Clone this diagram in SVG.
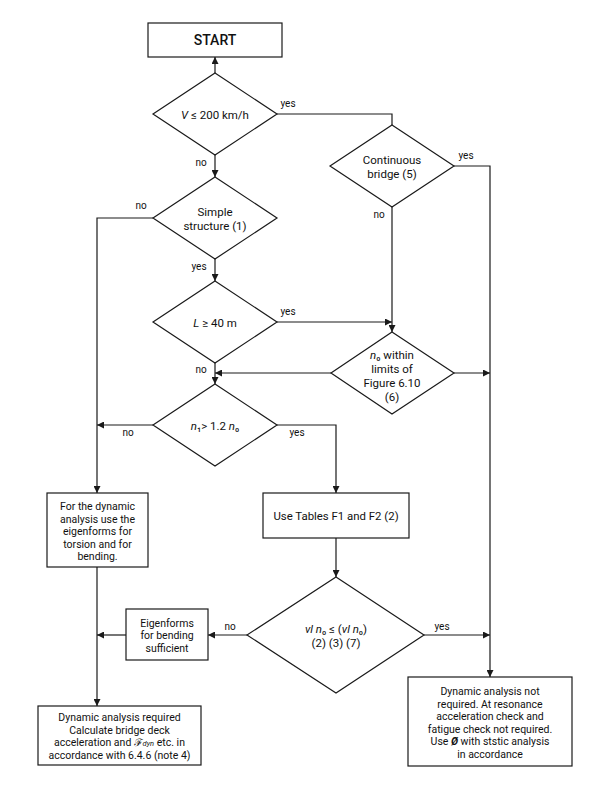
<svg xmlns="http://www.w3.org/2000/svg" width="598" height="796" viewBox="0 0 598 796">
<defs>
<marker id="ah" viewBox="0 0 10 10" refX="10" refY="5" markerWidth="7" markerHeight="7" markerUnits="userSpaceOnUse" orient="auto">
<path d="M0,0 L10,5 L0,10 z" fill="#1a1a1a"/>
</marker>
<style>
.sh{fill:#fff;stroke:#1a1a1a;stroke-width:1.2}
.c{fill:none;stroke:#1a1a1a;stroke-width:1.2}
.a{marker-end:url(#ah)}
text{font-family:Roboto,"Noto Sans","DejaVu Sans",sans-serif;fill:#111;text-anchor:middle}
.d{font-size:11.5px}
.b{font-size:10.5px}
.l{font-size:10px}
.i{font-style:italic}
</style>
</defs>
<rect width="598" height="796" fill="#fff"/>
<g id="connectors">
<path class="c a" d="M215,73 V57"/>
<path class="c a" d="M215,155 V177"/>
<path class="c" d="M277,114 H392 V125"/>
<path class="c a" d="M454,166 H490 V677"/>
<path class="c a" d="M392,207 V332"/>
<path class="c a" d="M153,218 H97 V493"/>
<path class="c a" d="M215,259 V281"/>
<path class="c a" d="M277,322 H392"/>
<path class="c a" d="M215,363 V384"/>
<path class="c a" d="M331,373 H215"/>
<path class="c a" d="M454,373 H490"/>
<path class="c a" d="M153,425 H97"/>
<path class="c a" d="M277,425 H336 V493"/>
<path class="c a" d="M97,567 V706"/>
<path class="c a" d="M336,538 V577"/>
<path class="c a" d="M247,635 H208"/>
<path class="c a" d="M126,635 H97"/>
<path class="c a" d="M424,635 H490"/>
<text class="l" x="288" y="107">yes</text>
<text class="l" x="201" y="166">no</text>
<text class="l" x="466" y="159">yes</text>
<text class="l" x="379" y="218">no</text>
<text class="l" x="141" y="209">no</text>
<text class="l" x="199" y="270">yes</text>
<text class="l" x="288" y="315">yes</text>
<text class="l" x="201" y="373">no</text>
<text class="l" x="128" y="436">no</text>
<text class="l" x="297" y="436">yes</text>
<text class="l" x="230" y="630">no</text>
<text class="l" x="442" y="630">yes</text>
</g>
<g id="start">
<rect class="sh" x="148" y="23" width="134" height="34"/>
<text x="215" y="45" font-size="14px" font-weight="500">START</text>
</g>
<g id="d-speed">
<polygon class="sh" points="215,73 277,114 215,155 153,114"/>
<text class="d" x="215" y="119"><tspan class="i">V</tspan> ≤ 200 km/h</text>
</g>
<g id="d-continuous">
<polygon class="sh" points="392,125 454,166 392,207 330,166"/>
<text class="d" x="392" y="164">Continuous</text>
<text class="d" x="392" y="178">bridge (5)</text>
</g>
<g id="d-simple">
<polygon class="sh" points="215,177 277,218 215,259 153,218"/>
<text class="d" x="215" y="215.5">Simple</text>
<text class="d" x="215" y="229.5">structure (1)</text>
</g>
<g id="d-length">
<polygon class="sh" points="215,281 277,322 215,363 153,322"/>
<text class="d" x="215" y="327"><tspan class="i">L</tspan> ≥ 40 m</text>
</g>
<g id="d-n0">
<polygon class="sh" points="392,332 454,373 392,414 331,373"/>
<text class="d" x="392" y="359"><tspan class="i">n</tspan>₀ within</text>
<text class="d" x="392" y="373">limits of</text>
<text class="d" x="392" y="387">Figure 6.10</text>
<text class="d" x="392" y="401">(6)</text>
</g>
<g id="d-n1">
<polygon class="sh" points="215,384 277,425 215,466 153,425"/>
<text class="d" x="215" y="430"><tspan class="i">n</tspan>₁&gt; 1.2 <tspan class="i">n</tspan>₀</text>
</g>
<g id="b-torsion">
<rect class="sh" x="47" y="493" width="101" height="74"/>
<text class="b" x="97.5" y="510">For the dynamic</text>
<text class="b" x="97.5" y="522.5">analysis use the</text>
<text class="b" x="97.5" y="535">eigenforms for</text>
<text class="b" x="97.5" y="547.5">torsion and for</text>
<text class="b" x="97.5" y="560">bending.</text>
</g>
<g id="b-tables">
<rect class="sh" x="263" y="493" width="146" height="45"/>
<text x="336" y="520" font-size="11.4px">Use Tables F1 and F2 (2)</text>
</g>
<g id="d-ratio">
<polygon class="sh" points="336,577 424,635 336,693 247,635"/>
<text class="d" x="336" y="633"><tspan class="i">vl n</tspan>₀ ≤ (<tspan class="i">vl n</tspan>₀)</text>
<text class="d" x="336" y="647">(2) (3) (7)</text>
</g>
<g id="b-bending">
<rect class="sh" x="126" y="609" width="82" height="51"/>
<text class="b" x="167" y="626.5">Eigenforms</text>
<text class="b" x="167" y="639">for bending</text>
<text class="b" x="167" y="651.5">sufficient</text>
</g>
<g id="b-required">
<rect class="sh" x="38" y="706" width="163" height="59"/>
<text class="b" x="119.5" y="721">Dynamic analysis required</text>
<text class="b" x="119.5" y="733.5">Calculate bridge deck</text>
<text class="b" x="119.5" y="746">acceleration and <tspan class="i">ℱ</tspan><tspan class="i" font-size="7.5px">dyn</tspan> etc. in</text>
<text class="b" x="119.5" y="758.5">accordance with 6.4.6 (note 4)</text>
</g>
<g id="b-notrequired">
<rect class="sh" x="408" y="677" width="164" height="89"/>
<text class="b" x="490" y="695">Dynamic analysis not</text>
<text class="b" x="490" y="707.5">required. At resonance</text>
<text class="b" x="490" y="720">acceleration check and</text>
<text class="b" x="490" y="732.5">fatigue check not required.</text>
<text class="b" x="490" y="745">Use <tspan font-weight="bold" font-style="italic">Ø</tspan> with ststic analysis</text>
<text class="b" x="490" y="757.5">in accordance</text>
</g>
</svg>
